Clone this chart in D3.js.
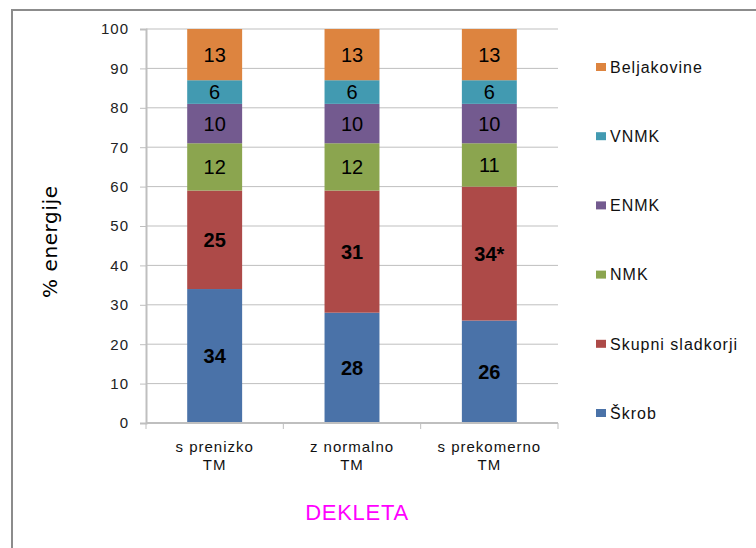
<!DOCTYPE html>
<html>
<head>
<meta charset="utf-8">
<script src="https://cdn.jsdelivr.net/npm/d3@7"></script>
<style>
  body { margin: 0; background: #fff; }
  text { font-family: "Liberation Sans", Arial, sans-serif; }
</style>
</head>
<body>
<div id="chart"></div>
<script>
// categories (two-line labels)
const groups = ["s prenizko|TM", "z normalno|TM", "s prekomerno|TM"];
// series, bottom to top
const seriesNames = ["Škrob", "Skupni sladkorji", "NMK", "ENMK", "VNMK", "Beljakovine"];
const seriesColors = ["#4a72a8", "#ad4a48", "#8ba54f", "#735a8f", "#429ab1", "#dd843f"];
const skrob = [34, 28, 26];
const sladkorji = [25, 31, 34];
const nmk = [12, 12, 11];
const enmk = [10, 10, 10];
const vnmk = [6, 6, 6];
const beljakovine = [13, 13, 13];
const starred = { series: "Skupni sladkorji", group: 2 };
const yTicks = [0, 10, 20, 30, 40, 50, 60, 70, 80, 90, 100];

const values = [skrob, sladkorji, nmk, enmk, vnmk, beljakovine];

const width = 756, height = 548;
const margin = { left: 146, right: 198, top: 29, bottom: 125 };

const svg = d3.select("#chart").append("svg")
    .attr("width", width)
    .attr("height", height);

// outer frame (runs off the page right and bottom)
svg.append("rect")
    .attr("x", 12).attr("y", 10)
    .attr("width", 800).attr("height", 600)
    .attr("fill", "none")
    .attr("stroke", "#8c8c8c")
    .attr("stroke-width", 2);

const x = d3.scaleBand()
    .domain(groups)
    .range([margin.left, width - margin.right])
    .paddingInner(0.6)
    .paddingOuter(0.3);

const y = d3.scaleLinear()
    .domain([0, 100])
    .range([height - margin.bottom, margin.top]);

// gridlines
svg.append("g")
    .selectAll("line")
    .data(yTicks)
    .enter()
    .append("line")
    .attr("x1", margin.left)
    .attr("x2", width - margin.right)
    .attr("y1", d => y(d))
    .attr("y2", d => y(d))
    .attr("stroke", "#bfbfbf")
    .attr("stroke-width", 1);

// stack data
const rows = groups.map((g, i) => {
    const r = { group: g };
    seriesNames.forEach((s, k) => { r[s] = values[k][i]; });
    return r;
});
const stacked = d3.stack().keys(seriesNames)(rows);

const layers = svg.append("g")
    .selectAll("g")
    .data(stacked)
    .enter()
    .append("g")
    .attr("fill", (d, k) => seriesColors[k]);

layers.selectAll("rect")
    .data(d => d)
    .enter()
    .append("rect")
    .attr("x", d => x(d.data.group))
    .attr("width", x.bandwidth())
    .attr("y", d => y(d[1]))
    .attr("height", d => y(d[0]) - y(d[1]));

layers.selectAll("text")
    .data(d => d.map(v => Object.assign(v, { key: d.key })))
    .enter()
    .append("text")
    .attr("x", d => x(d.data.group) + x.bandwidth() / 2)
    .attr("y", d => (y(d[0]) + y(d[1])) / 2)
    .attr("dy", "0.36em")
    .attr("text-anchor", "middle")
    .attr("fill", "#000")
    .style("font-size", "20px")
    .style("font-weight", d => (d.key === "Škrob" || d.key === "Skupni sladkorji") ? "bold" : "normal")
    .text(d => {
        const gi = groups.indexOf(d.data.group);
        const v = d[1] - d[0];
        return (d.key === starred.series && gi === starred.group) ? v + "*" : v;
    });

// y axis
const yAxis = svg.append("g")
    .attr("transform", "translate(" + margin.left + ",0)")
    .call(d3.axisLeft(y).tickValues(yTicks).tickSize(6).tickPadding(11));
yAxis.select(".domain").attr("stroke", "#bfbfbf").attr("stroke-width", 2);
yAxis.selectAll(".tick line").attr("stroke", "#bfbfbf");
yAxis.selectAll(".tick text")
    .style("font-size", "15px")
    .style("letter-spacing", "1px")
    .style("font-family", "'Liberation Sans', Arial, sans-serif")
    .attr("fill", "#222");

// x axis baseline and category separators
const base = y(0);
svg.append("line")
    .attr("x1", margin.left).attr("x2", width - margin.right)
    .attr("y1", base).attr("y2", base)
    .attr("stroke", "#bfbfbf").attr("stroke-width", 2);

const bounds = d3.range(groups.length + 1).map(i => margin.left + i * (width - margin.left - margin.right) / groups.length);
svg.append("g")
    .selectAll("line")
    .data(bounds)
    .enter()
    .append("line")
    .attr("x1", d => d).attr("x2", d => d)
    .attr("y1", base).attr("y2", base + 6)
    .attr("stroke", "#bfbfbf").attr("stroke-width", 1);

// category labels
const catLabels = svg.append("g")
    .selectAll("text")
    .data(groups)
    .enter()
    .append("text")
    .attr("x", d => x(d) + x.bandwidth() / 2)
    .attr("y", base + 29)
    .attr("text-anchor", "middle")
    .style("font-size", "15px")
    .style("letter-spacing", "1px")
    .attr("fill", "#111");
catLabels.each(function(d) {
    const parts = d.split("|");
    const t = d3.select(this);
    parts.forEach((p, i) => {
        t.append("tspan")
            .attr("x", x(d) + x.bandwidth() / 2)
            .attr("dy", i === 0 ? 0 : 18)
            .text(p);
    });
});

// axis titles
svg.append("text")
    .attr("transform", "translate(57," + y(46) + ") rotate(-90)")
    .attr("text-anchor", "middle")
    .style("font-size", "20px")
    .style("letter-spacing", "0.6px")
    .style("font-family", "'DejaVu Sans', sans-serif")
    .attr("fill", "#000")
    .text("% energije");

svg.append("text")
    .attr("x", (margin.left + width - margin.right) / 2 + 5)
    .attr("y", 520)
    .attr("text-anchor", "middle")
    .style("font-size", "22px")
    .style("letter-spacing", "0.7px")
    .attr("fill", "#ff00ff")
    .text("DEKLETA");

// legend, reversed order (top series first)
const legendItems = seriesNames.slice().reverse();
const legend = svg.append("g")
    .selectAll("g")
    .data(legendItems)
    .enter()
    .append("g")
    .attr("transform", (d, i) => "translate(596," + (67 + i * 69.2) + ")");

legend.append("rect")
    .attr("x", 0).attr("y", -4)
    .attr("width", 10).attr("height", 8)
    .attr("fill", d => seriesColors[seriesNames.indexOf(d)]);

legend.append("text")
    .attr("x", 14)
    .attr("dy", "0.36em")
    .style("font-size", "16px")
    .style("letter-spacing", "1px")
    .attr("fill", "#111")
    .text(d => d);
</script>
</body>
</html>
